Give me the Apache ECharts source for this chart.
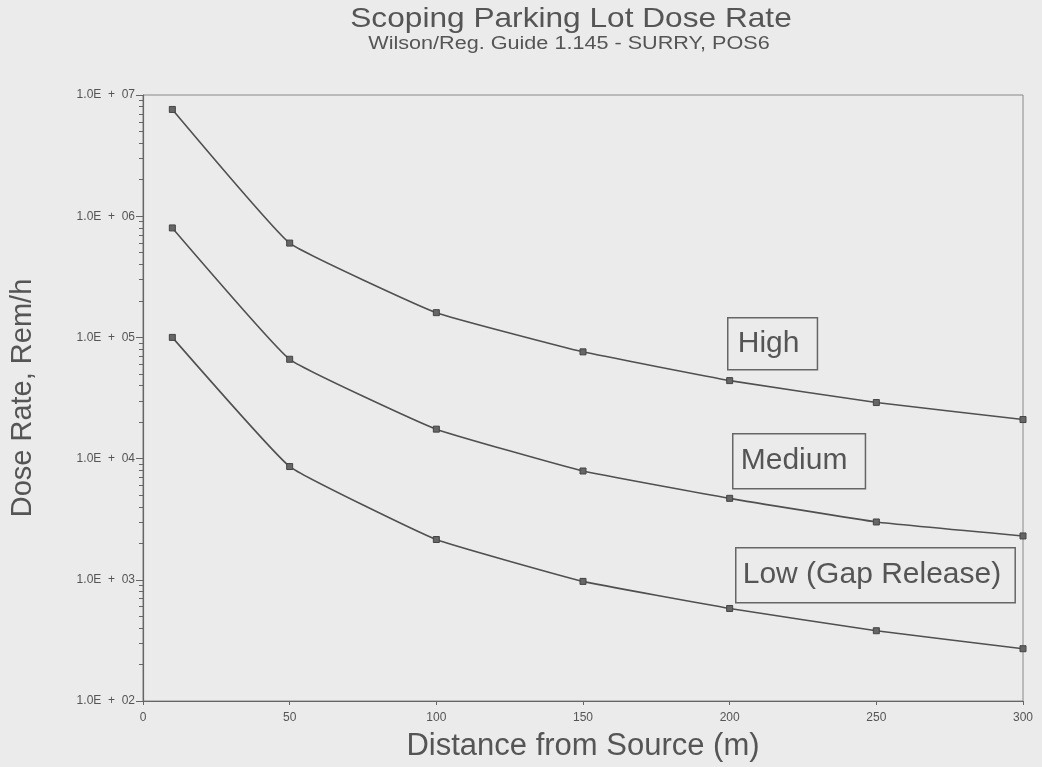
<!DOCTYPE html>
<html>
<head>
<meta charset="utf-8">
<script src="https://cdn.jsdelivr.net/npm/echarts@6/dist/echarts.min.js"></script>
<style>
  html, body { margin: 0; padding: 0; background: #ebebeb; }
  #chart { width: 1042px; height: 767px; }
</style>
</head>
<body>
<div id="chart"></div>
<script>
// Distances from the source (m)
const distances = [10, 50, 100, 150, 200, 250, 300];
// Dose rate (Rem/h) for each release case
const highDose = [7.6e6, 6.0e5, 1.6e5, 7.6e4, 4.4e4, 2.9e4, 2.1e4];
const mediumDose = [8.0e5, 6.6e4, 1.75e4, 7.9e3, 4.7e3, 3.0e3, 2.3e3];
const lowDose = [1.0e5, 8.6e3, 2.15e3, 970, 580, 380, 270];
// Axis ticks
const xTicks = [0, 50, 100, 150, 200, 250, 300];
const yDecades = [1e2, 1e3, 1e4, 1e5, 1e6, 1e7];
const yMinorTicks = [];
for (let d = 2; d < 7; d++) {
  for (let m = 2; m <= 9; m++) yMinorTicks.push(m * Math.pow(10, d));
}

const ink = '#505050';
const axisInk = '#666';
const labelFont = "'Liberation Sans Narrow', 'Liberation Sans', Arial, sans-serif";
const mainFont = "'Liberation Sans', Arial, sans-serif";

function pairs(values) {
  return distances.map((d, i) => [d, values[i]]);
}

function decadeLabel(v) {
  const e = Math.round(Math.log10(v));
  return '1.0E  +  ' + (e < 10 ? '0' : '') + e;
}

const chart = echarts.init(document.getElementById('chart'), null, { renderer: 'canvas' });

const lineSeries = (name, values) => ({
  name: name,
  type: 'line',
  data: pairs(values),
  smooth: 0.1,
  symbol: 'rect',
  symbolSize: 6,
  lineStyle: { color: ink, width: 1.6 },
  itemStyle: { color: '#666', borderColor: '#444', borderWidth: 1 },
  z: 3
});

// Boxed curve labels
const boxLabel = (text, left, top, padding) => ({
  type: 'text', left: left, top: top,
  style: {
    text: text, fontFamily: mainFont, fontSize: 30, lineHeight: 30, fill: '#555',
    padding: padding,
    borderColor: '#666', borderWidth: 1.5
  }
});

chart.setOption({
  backgroundColor: '#ebebeb',
  animation: false,
  grid: {
    left: 141,
    right: 19,
    top: 95,
    bottom: 64,
    show: true,
    borderColor: '#888',
    borderWidth: 1,
    backgroundColor: 'transparent'
  },
  xAxis: {
    type: 'value',
    min: 0,
    max: 300,
    interval: 50,
    name: 'Distance from Source (m)',
    nameLocation: 'middle',
    nameGap: 30,
    nameTextStyle: { fontFamily: mainFont, fontSize: 31, color: '#555' },
    axisLine: { show: true, lineStyle: { color: axisInk, width: 1.2 } },
    axisTick: { show: true, length: 4, lineStyle: { color: axisInk } },
    axisLabel: {
      fontFamily: labelFont, fontSize: 12, color: '#555', margin: 11,
      customValues: xTicks
    },
    splitLine: { show: false }
  },
  yAxis: [
    {
      type: 'log',
      logBase: 10,
      min: 1e2,
      max: 1e7,
      name: 'Dose Rate, Rem/h',
      nameLocation: 'middle',
      nameGap: 106,
      nameTextStyle: { fontFamily: mainFont, fontSize: 29, color: '#555' },
      axisLine: { show: true, lineStyle: { color: axisInk, width: 1.2 } },
      axisTick: { show: true, length: 7, customValues: yDecades, lineStyle: { color: axisInk } },
      axisLabel: {
        fontFamily: labelFont, fontSize: 12, color: '#555', margin: 8,
        customValues: yDecades,
        formatter: decadeLabel
      },
      splitLine: { show: false }
    },
    {
      type: 'log',
      logBase: 10,
      min: 1e2,
      max: 1e7,
      position: 'left',
      axisLine: { show: false },
      axisTick: { show: true, length: 4, customValues: yMinorTicks, lineStyle: { color: axisInk } },
      axisLabel: { show: false },
      splitLine: { show: false }
    }
  ],
  series: [
    lineSeries('High', highDose),
    lineSeries('Medium', mediumDose),
    lineSeries('Low (Gap Release)', lowDose)
  ],
  graphic: [
    {
      type: 'text', x: 571, y: 19, scaleX: 1.13,
      style: {
        text: 'Scoping Parking Lot Dose Rate', fontFamily: mainFont, fontSize: 28,
        fill: '#555', align: 'center', verticalAlign: 'middle'
      }
    },
    {
      type: 'text', x: 569, y: 44, scaleX: 1.2,
      style: {
        text: 'Wilson/Reg. Guide 1.145 - SURRY, POS6', fontFamily: mainFont, fontSize: 18,
        fill: '#555', align: 'center', verticalAlign: 'middle'
      }
    },
    boxLabel('High', 727, 317, [11, 18, 11, 10]),
    boxLabel('Medium', 732, 433, [12, 18, 13, 8]),
    boxLabel('Low (Gap Release)', 735, 547, [12, 14, 13, 7])
  ]
});
</script>
</body>
</html>
